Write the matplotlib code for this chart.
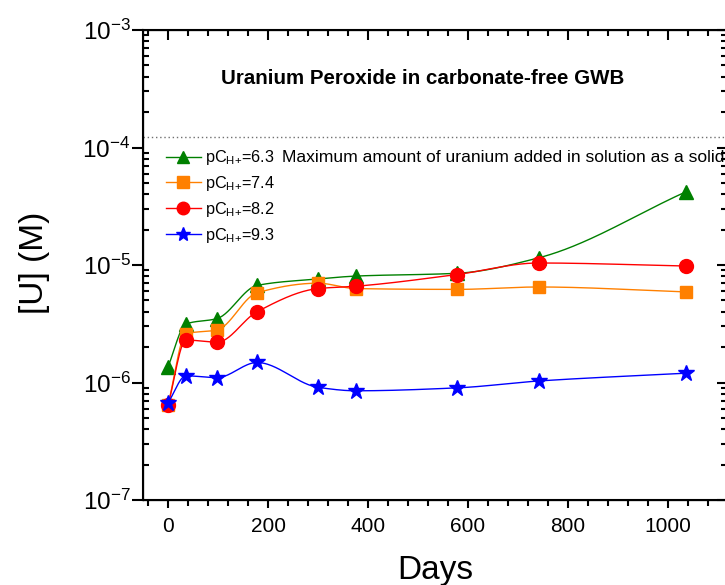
import matplotlib.pyplot as plt
import numpy as np

# data
days = [0, 36, 98, 178, 300, 376, 578, 741, 1036]
u_ph63 = [1.36e-6, 3.15e-6, 3.5e-6, 6.7e-6, 7.6e-6, 8.05e-6, 8.5e-6, 1.15e-5, 4.2e-5]
u_ph74 = [6.4e-7, 2.6e-6, 2.8e-6, 5.8e-6, 7.0e-6, 6.3e-6, 6.2e-6, 6.5e-6, 5.9e-6]
u_ph82 = [6.4e-7, 2.3e-6, 2.2e-6, 4.0e-6, 6.3e-6, 6.6e-6, 8.3e-6, 1.04e-5, 9.8e-6]
u_ph93 = [6.7e-7, 1.14e-6, 1.1e-6, 1.48e-6, 9.1e-7, 8.5e-7, 9.0e-7, 1.03e-6, 1.2e-6]
pch_labels = ["6.3", "7.4", "8.2", "9.3"]
u_max = 1.23e-4

plt.rcParams["font.family"] = ["Liberation Sans", "DejaVu Sans"]
plt.rcParams["mathtext.fontset"] = "custom"
plt.rcParams["mathtext.rm"] = "Liberation Sans"
plt.rcParams["mathtext.it"] = "Liberation Sans"


def pchip_curve(x, y, n=400):
    # monotone cubic curve through the points (in log space), for the smooth lines
    x = np.asarray(x, dtype=float)
    y = np.log10(np.asarray(y, dtype=float))
    h = np.diff(x)
    d = np.diff(y) / h
    m = np.zeros_like(y)
    for k in range(1, len(x) - 1):
        if d[k - 1] * d[k] > 0:
            w1 = 2 * h[k] + h[k - 1]
            w2 = h[k] + 2 * h[k - 1]
            m[k] = (w1 + w2) / (w1 / d[k - 1] + w2 / d[k])
    m[0] = d[0]
    m[-1] = d[-1]
    xs = np.linspace(x[0], x[-1], n)
    idx = np.clip(np.searchsorted(x, xs) - 1, 0, len(x) - 2)
    t = (xs - x[idx]) / h[idx]
    h00 = 2 * t**3 - 3 * t**2 + 1
    h10 = t**3 - 2 * t**2 + t
    h01 = -2 * t**3 + 3 * t**2
    h11 = t**3 - t**2
    ys = h00 * y[idx] + h10 * h[idx] * m[idx] + h01 * y[idx + 1] + h11 * h[idx] * m[idx + 1]
    return xs, 10**ys


fig = plt.figure(figsize=(7.25, 5.85), dpi=100)
ax = fig.add_axes([143 / 725, 85 / 585, 584 / 725, 470 / 585])

series = [u_ph63, u_ph74, u_ph82, u_ph93]
colors = ["#008000", "#FF8000", "#FF0000", "#0000FF"]
markers = ["^", "s", "o", "*"]
msizes = [10, 9, 10, 12]

for vals, c, mk, ms, lab in zip(series, colors, markers, msizes, pch_labels):
    xs, ys = pchip_curve(days, vals)
    ax.plot(xs, ys, color=c, lw=1)
    ax.plot(days, vals, linestyle="none", marker=mk, color=c, markersize=ms)
    ax.plot([], [], color=c, lw=1, marker=mk, markersize=ms * 0.9,
            label=r"pC$_\mathregular{H{+}}$=" + lab)

ax.axhline(u_max, color="#707070", lw=1, ls=(0, (1, 2)))

ax.set_yscale("log")
ax.set_xlim(-50, 1118)
ax.set_ylim(1e-7, 1e-3)
ax.set_xticks([0, 200, 400, 600, 800, 1000])
ax.set_xticks(np.arange(-40, 1118, 40), minor=True)
ax.set_yticks([1e-7, 1e-6, 1e-5, 1e-4, 1e-3])
ax.set_yticklabels([r"$\mathregular{10^{-7}}$", r"$\mathregular{10^{-6}}$",
                    r"$\mathregular{10^{-5}}$", r"$\mathregular{10^{-4}}$",
                    r"$\mathregular{10^{-3}}$"])

ax.tick_params(axis="x", which="major", direction="out", length=6, width=1.5,
               labelsize=15, pad=6)
ax.tick_params(axis="x", which="minor", direction="out", length=4, width=1.5)
ax.tick_params(axis="y", which="major", direction="out", length=8, width=1.5,
               labelsize=17.5, pad=1)
ax.tick_params(axis="y", which="minor", direction="in", length=4, width=1.5)
for s in ax.spines.values():
    s.set_linewidth(1.5)

# inner ticks on top and right
axt = ax.twiny()
axt.set_xlim(ax.get_xlim())
axt.set_xticks([0, 200, 400, 600, 800, 1000])
axt.set_xticks(np.arange(-40, 1118, 40), minor=True)
axt.tick_params(axis="x", which="major", direction="in", length=7, width=1.5, labeltop=False)
axt.tick_params(axis="x", which="minor", direction="in", length=4, width=1.5)
axr = ax.twinx()
axr.set_yscale("log")
axr.set_ylim(ax.get_ylim())
axr.tick_params(axis="y", which="major", direction="in", length=7, width=1.5, labelright=False)
axr.tick_params(axis="y", which="minor", direction="in", length=4, width=1.5)

ax.set_xlabel("Days", fontsize=24, labelpad=14)
ax.set_ylabel("[U] (M)", fontsize=24)
ax.yaxis.set_label_coords(-0.159, 0.505)

ax.text(0.4786, 0.897, "Uranium Peroxide in carbonate-free GWB", transform=ax.transAxes,
        fontsize=14.8, fontweight="bold", ha="center", va="center")
ax.text(228, 8.3e-5, "Maximum amount of uranium added in solution as a solid",
        fontsize=12.6, ha="left", va="center")

ax.legend(loc="upper left", bbox_to_anchor=(0.029, 0.762), frameon=False, fontsize=11.7,
          handlelength=2.1, handletextpad=0.3, labelspacing=0.42, borderaxespad=0)

fig.savefig("out.png", dpi=100)
